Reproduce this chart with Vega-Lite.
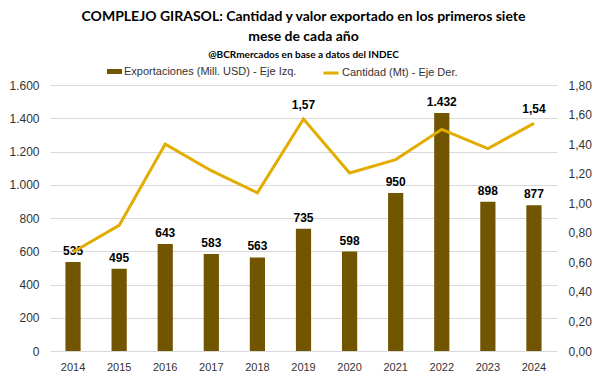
{
  "$schema": "https://vega.github.io/schema/vega-lite/v6.json",
  "width": 600,
  "height": 391,
  "autosize": {"type": "fit", "contains": "padding"},
  "padding": {"left": 8, "right": 8, "top": 10, "bottom": 19},
  "background": "white",
  "config": {
    "locale": {"number": {"decimal": ",", "thousands": ".", "grouping": [3], "currency": ["$", ""]}},
    "view": {"stroke": null},
    "font": "Liberation Sans",
    "axis": {"labelFont": "Liberation Sans", "labelColor": "#333333", "labelFontSize": 12, "gridColor": "#D9D9D9", "gridWidth": 1, "labelOverlap": false},
    "legend": {"labelFont": "Liberation Sans", "labelFontSize": 11, "labelColor": "#333333", "labelLimit": 300}
  },
  "title": {
    "text": ["COMPLEJO GIRASOL: Cantidad y valor exportado en los primeros siete", "mese de cada año"],
    "subtitle": "@BCRmercados en base a datos del INDEC",
    "font": "Lato",
    "fontSize": 14,
    "fontWeight": "bold",
    "lineHeight": 20,
    "color": "#000000",
    "subtitleFont": "Lato",
    "subtitleFontSize": 10,
    "subtitleFontWeight": "bold",
    "subtitleColor": "#000000",
    "subtitlePadding": 6,
    "anchor": "middle",
    "offset": 19
  },
  "data": {
    "values": [
      {"year": "2014", "exp": 535, "qty": 0.67},
      {"year": "2015", "exp": 495, "qty": 0.85},
      {"year": "2016", "exp": 643, "qty": 1.40},
      {"year": "2017", "exp": 583, "qty": 1.22},
      {"year": "2018", "exp": 563, "qty": 1.07},
      {"year": "2019", "exp": 735, "qty": 1.57},
      {"year": "2020", "exp": 598, "qty": 1.205},
      {"year": "2021", "exp": 950, "qty": 1.295},
      {"year": "2022", "exp": 1432, "qty": 1.50},
      {"year": "2023", "exp": 898, "qty": 1.37},
      {"year": "2024", "exp": 877, "qty": 1.54}
    ]
  },
  "encoding": {
    "x": {
      "field": "year",
      "type": "ordinal",
      "scale": {"paddingInner": 0.67, "paddingOuter": 0.335},
      "axis": {"title": null, "labelAngle": 0, "ticks": false, "domain": false, "labelPadding": 10, "labelFontSize": 11}
    }
  },
  "layer": [
    {
      "encoding": {
        "y": {
          "field": "exp",
          "type": "quantitative",
          "scale": {"domain": [0, 1600], "nice": false},
          "axis": {"title": null, "format": ",.0f", "values": [0, 200, 400, 600, 800, 1000, 1200, 1400, 1600], "tickCount": 9, "labelOverlap": false, "grid": true, "ticks": false, "domain": false, "labelPadding": 11}
        }
      },
      "layer": [
        {
          "mark": {"type": "bar"},
          "encoding": {
            "fill": {
              "datum": "Exportaciones (Mill. USD) - Eje Izq.",
              "type": "nominal",
              "scale": {"range": ["#715500"]},
              "legend": {"orient": "none", "legendX": 57, "legendY": -21, "title": null, "symbolType": "M-1,-0.33H1V0.33H-1Z", "symbolSize": 225, "symbolStrokeWidth": 0, "labelOffset": 2}
            }
          }
        },
        {
          "mark": {"type": "text", "dy": -4, "baseline": "bottom", "fontWeight": "bold", "fontSize": 12, "color": "#000000"},
          "encoding": {
            "text": {"field": "exp", "type": "quantitative", "format": ",.0f"}
          }
        }
      ]
    },
    {
      "encoding": {
        "y": {
          "field": "qty",
          "type": "quantitative",
          "scale": {"domain": [0, 1.8], "nice": false},
          "axis": {"orient": "right", "title": null, "format": ".2f", "values": [0, 0.2, 0.4, 0.6, 0.8, 1.0, 1.2, 1.4, 1.6, 1.8], "tickCount": 10, "labelOverlap": false, "grid": false, "ticks": false, "domain": false, "labelPadding": 11}
        }
      },
      "layer": [
        {
          "mark": {"type": "line", "strokeWidth": 3},
          "encoding": {
            "stroke": {
              "datum": "Cantidad (Mt) - Eje Der.",
              "type": "nominal",
              "scale": {"range": ["#E3AC00"]},
              "legend": {"orient": "none", "legendX": 272, "legendY": -21, "title": null, "symbolType": "stroke", "symbolSize": 225, "symbolStrokeWidth": 3, "labelOffset": 2}
            }
          }
        },
        {
          "transform": [{"filter": "datum.year == '2019' || datum.year == '2024'"}],
          "mark": {"type": "text", "dy": -7, "baseline": "bottom", "fontWeight": "bold", "fontSize": 12, "color": "#000000"},
          "encoding": {
            "text": {"field": "qty", "type": "quantitative", "format": ".2f"}
          }
        }
      ]
    }
  ],
  "resolve": {"scale": {"y": "independent", "fill": "independent", "stroke": "independent"}}
}
